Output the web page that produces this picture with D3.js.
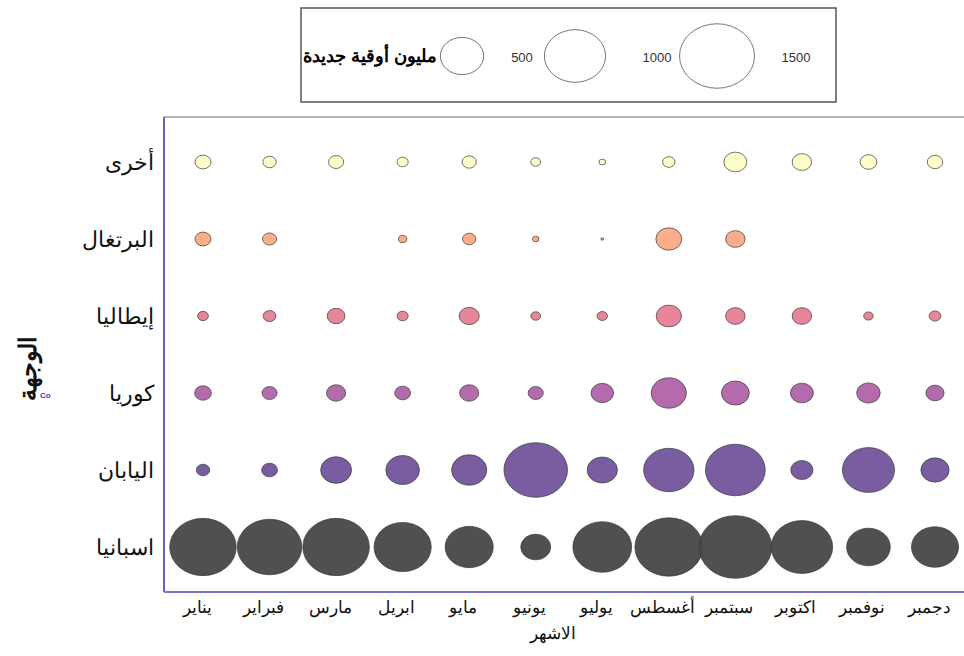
<!DOCTYPE html>
<html>
<head>
<meta charset="utf-8">
<script src="https://cdn.jsdelivr.net/npm/d3@7"></script>
<style>
  body { margin: 0; background: #fff; }
  svg { display: block; font-family: "Liberation Sans", Arial, sans-serif; }
</style>
</head>
<body>
<svg></svg>
<script>
const WIDTH = 964;
const HEIGHT = 656;

// data (million new ounces)
const months = ["يناير", "فبراير", "مارس", "ابريل", "مايو", "يونيو",
                "يوليو", "أغسطس", "سبتمبر", "اكتوبر", "نوفمبر", "دجمبر"];
const destinations = ["أخرى", "البرتغال", "إيطاليا", "كوريا", "اليابان", "اسبانيا"];
const colors = ["#fdfdc6", "#f9a984", "#e67f96", "#b063a8", "#73549b", "#474747"];

const other    = [69, 48, 61, 33, 55, 26, 12, 41, 140, 101, 76, 64];
const portugal = [69, 53, 0, 19, 48, 11, 2, 179, 101, 0, 0, 0];
const italy    = [31, 44, 85, 33, 108, 26, 29, 170, 101, 101, 24, 37];
const korea    = [75, 61, 98, 67, 98, 61, 135, 332, 208, 140, 147, 88];
const japan    = [48, 67, 255, 301, 332, 1077, 244, 678, 954, 131, 725, 213];
const spain    = [1182, 1111, 1182, 872, 617, 239, 922, 1229, 1418, 1009, 509, 591];

const seriesValues = [other, portugal, italy, korea, japan, spain];
const legendValues = [500, 1000, 1500];

let svg = d3.select("svg")
    .attr("width", WIDTH)
    .attr("height", HEIGHT);

let x = d3.scalePoint()
    .domain(months)
    .range([203, 935]);

let y = d3.scalePoint()
    .domain(destinations)
    .range([162, 547]);

// bubble width grows with sqrt of value, drawn a bit squashed like the original
let rx = d3.scaleSqrt()
    .domain([0, 1500])
    .range([0, 37.5]);
const SQUASH = 0.86;

// plot frame
svg.append("line")
    .attr("x1", 164).attr("y1", 117)
    .attr("x2", WIDTH).attr("y2", 117)
    .style("stroke", "#9a9a9a")
    .style("stroke-width", 1.5);

svg.append("line")
    .attr("x1", 164).attr("y1", 117)
    .attr("x2", 164).attr("y2", 592)
    .style("stroke", "#6464c8")
    .style("stroke-width", 2);

svg.append("line")
    .attr("x1", 164).attr("y1", 592)
    .attr("x2", WIDTH).attr("y2", 592)
    .style("stroke", "#7a7ab8")
    .style("stroke-width", 2);

// bubbles
let cells = [];
destinations.forEach((dest, i) => {
    seriesValues[i].forEach((v, j) => {
        if (v > 0) cells.push({ dest: dest, month: months[j], value: v, color: colors[i] });
    });
});

svg.append("g")
    .selectAll("ellipse")
    .data(cells)
    .join("ellipse")
    .attr("cx", d => x(d.month))
    .attr("cy", d => y(d.dest))
    .attr("rx", d => Math.max(rx(d.value), 1))
    .attr("ry", d => Math.max(rx(d.value) * SQUASH, 1))
    .style("fill", d => d.color)
    .style("fill-opacity", 0.95)
    .style("stroke", "#3a3a3a")
    .style("stroke-opacity", 0.7)
    .style("stroke-width", 1);

// y labels
svg.append("g")
    .selectAll("text")
    .data(destinations)
    .join("text")
    .attr("x", 154)
    .attr("y", d => y(d))
    .attr("dy", "0.35em")
    .attr("text-anchor", "end")
    .style("font-size", "22px")
    .style("fill", "#111")
    .text(d => d);

// x labels
svg.append("g")
    .selectAll("text")
    .data(months)
    .join("text")
    .attr("x", d => x(d) - 6)
    .attr("y", 613)
    .attr("text-anchor", "middle")
    .style("font-size", "17px")
    .style("fill", "#111")
    .text(d => d);

// axis titles
svg.append("text")
    .attr("x", 553)
    .attr("y", 639)
    .attr("text-anchor", "middle")
    .style("font-size", "17px")
    .style("fill", "#111")
    .text("الاشهر");

svg.append("text")
    .attr("transform", "translate(36, 368) rotate(-90)")
    .attr("text-anchor", "middle")
    .style("font-size", "24px")
    .style("font-weight", "bold")
    .style("fill", "#111")
    .text("الوجهة");

svg.append("text")
    .attr("x", 40)
    .attr("y", 398)
    .style("font-size", "8px")
    .style("font-weight", "bold")
    .style("fill", "#3c3cc0")
    .text("Co");

// legend
let legend = svg.append("g");

legend.append("rect")
    .attr("x", 301)
    .attr("y", 8)
    .attr("width", 535)
    .attr("height", 94)
    .style("fill", "#fff")
    .style("stroke", "#555")
    .style("stroke-width", 1.5);

legend.append("text")
    .attr("x", 437)
    .attr("y", 56)
    .attr("dy", "0.35em")
    .attr("text-anchor", "end")
    .style("font-size", "18px")
    .style("font-weight", "bold")
    .style("fill", "#000")
    .text("مليون أوقية جديدة");

const legendX = [462, 575, 717];
const labelX = [522, 657, 796];

legend.selectAll("ellipse")
    .data(legendValues)
    .join("ellipse")
    .attr("cx", (d, i) => legendX[i])
    .attr("cy", 56)
    .attr("rx", d => rx(d))
    .attr("ry", d => rx(d) * SQUASH)
    .style("fill", "none")
    .style("stroke", "#777")
    .style("stroke-width", 1);

legend.selectAll("text.lbl")
    .data(legendValues)
    .join("text")
    .attr("class", "lbl")
    .attr("x", (d, i) => labelX[i])
    .attr("y", 57)
    .attr("dy", "0.35em")
    .attr("text-anchor", "middle")
    .style("font-size", "13px")
    .style("fill", "#333")
    .text(d => d);
</script>
</body>
</html>
